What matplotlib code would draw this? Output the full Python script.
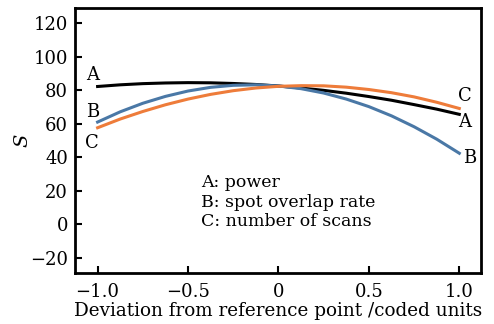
import matplotlib
matplotlib.use('Agg')
import matplotlib.pyplot as plt

# deviation from reference point (coded units)
x = [-1.0, -0.875, -0.75, -0.625, -0.5, -0.375, -0.25, -0.125, 0.0,
     0.125, 0.25, 0.375, 0.5, 0.625, 0.75, 0.875, 1.0]

# A: power
s_power = [82.2, 83.2, 83.9, 84.3, 84.5, 84.4, 84.0, 83.4, 82.5,
           81.3, 79.9, 78.2, 76.2, 74.0, 71.4, 68.7, 65.6]
# B: spot overlap rate
s_overlap = [61.0, 67.1, 72.2, 76.3, 79.5, 81.7, 82.9, 83.2, 82.5,
             80.9, 78.3, 74.7, 70.2, 64.7, 58.2, 50.8, 42.4]
# C: number of scans
s_scans = [57.6, 62.8, 67.3, 71.3, 74.7, 77.5, 79.7, 81.3, 82.3,
           82.7, 82.6, 81.8, 80.4, 78.5, 76.0, 72.8, 69.1]

yticks = [-20, 0, 20, 40, 60, 80, 100, 120]
xticks = [-1.0, -0.5, 0, 0.5, 1.0]
xticklabels = ['\u22121.0', '\u22120.5', '0', '0.5', '1.0']
yticklabels = ['\u221220', '0', '20', '40', '60', '80', '100', '120']

plt.rcParams['font.family'] = 'DejaVu Serif'

fig = plt.figure(figsize=(4.94, 3.24), dpi=100)
ax = fig.add_axes([75/494, 1 - 273/324, 406/494, 265/324])

ax.plot(x, s_power, color='black', lw=2.2)
ax.plot(x, s_overlap, color='#4a78a6', lw=2.2)
ax.plot(x, s_scans, color='#ee7c3a', lw=2.2)

ax.set_xlim(-1.125, 1.12)
ax.set_ylim(-29, 129)
ax.set_xticks(xticks)
ax.set_xticklabels(xticklabels)
ax.set_yticks(yticks)
ax.set_yticklabels(yticklabels)
ax.tick_params(direction='in', length=5, width=1.5, labelsize=13)
ax.tick_params(axis='x', pad=7)
ax.tick_params(axis='y', pad=5)
for sp in ax.spines.values():
    sp.set_linewidth(2)

# curve labels
fs = 13
ax.text(-1.03, 89, 'A', ha='center', va='center', fontsize=fs)
ax.text(-1.03, 67, 'B', ha='center', va='center', fontsize=fs)
ax.text(-1.03, 48.5, 'C', ha='center', va='center', fontsize=fs)
ax.text(1.03, 76.5, 'C', ha='center', va='center', fontsize=fs)
ax.text(1.03, 61, 'A', ha='center', va='center', fontsize=fs)
ax.text(1.06, 39.5, 'B', ha='center', va='center', fontsize=fs)

ax.text(-0.43, 24.7, 'A: power', va='center', fontsize=12.5)
ax.text(-0.43, 12.9, 'B: spot overlap rate', va='center', fontsize=12.5)
ax.text(-0.43, 1.5, 'C: number of scans', va='center', fontsize=12.5)

ax.set_xlabel('Deviation from reference point /coded units', fontsize=13.2, labelpad=1)
ax.set_ylabel('S', fontsize=14, style='italic', va='center')
ax.yaxis.set_label_coords(-0.13, 0.5)

fig.savefig('out.png', dpi=100)
